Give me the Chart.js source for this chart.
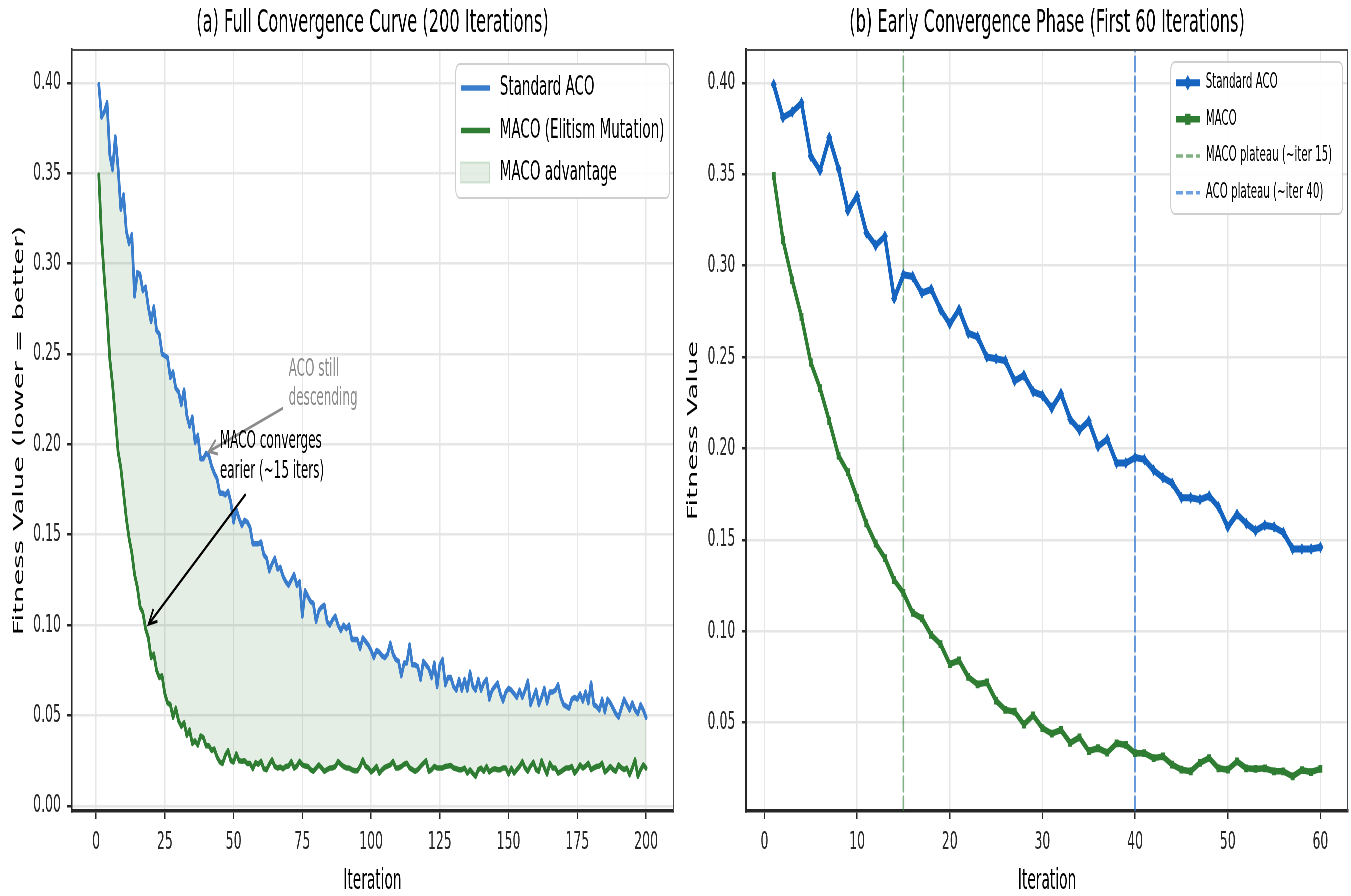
<!DOCTYPE html>
<html>
<head>
<meta charset="utf-8">
<script src="https://cdn.jsdelivr.net/npm/chart.js@4.4.0/dist/chart.umd.min.js"></script>
<style>
  html, body { margin: 0; padding: 0; background: #fff; overflow: hidden; }
  /* the figure is laid out twice as wide and squeezed to the window width */
  #stage { position: absolute; left: 0; top: 0; width: 2702px; height: 896px; transform: scaleX(0.5); transform-origin: 0 0; }
  #full { position: absolute; left: 0; top: 0; }
  #early { position: absolute; left: 1370px; top: 0; }
</style>
</head>
<body>
<div id="stage">
  <canvas id="full" width="1370" height="896"></canvas>
  <canvas id="early" width="1332" height="896"></canvas>
</div>
<script>
// ---- data ----
const acoFitness = [
  0.399, 0.381, 0.384, 0.389, 0.360, 0.352, 0.370, 0.353, 0.330, 0.338,
  0.318, 0.311, 0.316, 0.282, 0.295, 0.294, 0.285, 0.287, 0.276, 0.268,
  0.276, 0.263, 0.261, 0.250, 0.249, 0.248, 0.237, 0.240, 0.231, 0.229,
  0.222, 0.230, 0.216, 0.210, 0.215, 0.201, 0.205, 0.192, 0.192, 0.195,
  0.194, 0.188, 0.184, 0.181, 0.173, 0.173, 0.172, 0.174, 0.168, 0.157,
  0.164, 0.159, 0.155, 0.158, 0.157, 0.154, 0.145, 0.145, 0.145, 0.146,
  0.139, 0.137, 0.130, 0.134, 0.137, 0.131, 0.132, 0.127, 0.124, 0.122,
  0.125, 0.128, 0.122, 0.124, 0.105, 0.119, 0.116, 0.113, 0.112, 0.102,
  0.108, 0.110, 0.111, 0.102, 0.100, 0.103, 0.105, 0.100, 0.097, 0.100,
  0.098, 0.100, 0.092, 0.092, 0.092, 0.087, 0.093, 0.091, 0.089, 0.086,
  0.082, 0.086, 0.085, 0.083, 0.082, 0.084, 0.090, 0.084, 0.081, 0.080,
  0.072, 0.079, 0.079, 0.089, 0.078, 0.078, 0.077, 0.070, 0.080, 0.078,
  0.076, 0.071, 0.079, 0.066, 0.078, 0.081, 0.067, 0.071, 0.071, 0.066,
  0.064, 0.070, 0.064, 0.070, 0.064, 0.074, 0.066, 0.064, 0.070, 0.064,
  0.068, 0.070, 0.059, 0.064, 0.066, 0.068, 0.062, 0.058, 0.063, 0.065,
  0.064, 0.062, 0.060, 0.064, 0.060, 0.064, 0.069, 0.056, 0.060, 0.064,
  0.056, 0.060, 0.065, 0.057, 0.063, 0.063, 0.064, 0.067, 0.060, 0.056,
  0.055, 0.054, 0.059, 0.060, 0.059, 0.062, 0.058, 0.063, 0.057, 0.068,
  0.056, 0.055, 0.053, 0.059, 0.052, 0.059, 0.057, 0.054, 0.051, 0.049,
  0.054, 0.059, 0.056, 0.053, 0.057, 0.053, 0.051, 0.056, 0.053, 0.049
];

const macoFitness = [
  0.349, 0.314, 0.292, 0.272, 0.247, 0.233, 0.215, 0.196, 0.187, 0.173,
  0.159, 0.148, 0.140, 0.128, 0.121, 0.110, 0.107, 0.098, 0.093, 0.082,
  0.084, 0.075, 0.071, 0.072, 0.062, 0.057, 0.056, 0.049, 0.054, 0.047,
  0.044, 0.046, 0.039, 0.042, 0.0345, 0.036, 0.0336, 0.0387, 0.0378, 0.0333,
  0.0333, 0.0306, 0.0315, 0.027, 0.0243, 0.0234, 0.028, 0.0306, 0.025, 0.0243,
  0.0288, 0.025, 0.0247, 0.025, 0.0234, 0.0234, 0.0206, 0.024, 0.023, 0.0247,
  0.0205, 0.0200, 0.0231, 0.0255, 0.0218, 0.0209, 0.0215, 0.0205, 0.0218, 0.0220,
  0.0246, 0.0209, 0.0220, 0.0246, 0.0227, 0.0220, 0.0218, 0.0200, 0.0191, 0.0209,
  0.0227, 0.0210, 0.0191, 0.0200, 0.0209, 0.0210, 0.0218, 0.0246, 0.0230, 0.0218,
  0.0210, 0.0209, 0.0200, 0.0194, 0.0194, 0.0218, 0.0255, 0.0220, 0.0209, 0.0187,
  0.0200, 0.0218, 0.0181, 0.0200, 0.0213, 0.0220, 0.0227, 0.0246, 0.0209, 0.0210,
  0.0218, 0.0230, 0.0236, 0.0210, 0.0200, 0.0191, 0.0200, 0.0218, 0.0235, 0.0250,
  0.0191, 0.0200, 0.0218, 0.0210, 0.0209, 0.0210, 0.0218, 0.0220, 0.0223, 0.0209,
  0.0205, 0.0200, 0.0200, 0.0209, 0.0181, 0.0200, 0.0180, 0.0163, 0.0200, 0.0209,
  0.0191, 0.0218, 0.0187, 0.0200, 0.0205, 0.0200, 0.0200, 0.0210, 0.0209, 0.0176,
  0.0209, 0.0181, 0.0200, 0.0218, 0.0246, 0.0210, 0.0191, 0.0220, 0.0242, 0.0200,
  0.0191, 0.0250, 0.0210, 0.0176, 0.0236, 0.0210, 0.0209, 0.0181, 0.0190, 0.0200,
  0.0210, 0.0209, 0.0218, 0.0181, 0.0200, 0.0227, 0.0209, 0.0220, 0.0236, 0.0200,
  0.0210, 0.0218, 0.0220, 0.0236, 0.0187, 0.0200, 0.0218, 0.0200, 0.0191, 0.0227,
  0.0210, 0.0200, 0.0209, 0.0172, 0.0210, 0.0255, 0.0163, 0.0200, 0.0227, 0.0209
];

const iterations = acoFitness.map((_, i) => i + 1);
const earlyCount = 60;
const macoPlateauIter = 15;
const acoPlateauIter = 40;

const fullXTicks = [0, 25, 50, 75, 100, 125, 150, 175, 200];
const earlyXTicks = [0, 10, 20, 30, 40, 50, 60];
const fitnessTicks = [0, 0.05, 0.10, 0.15, 0.20, 0.25, 0.30, 0.35, 0.40];

// ---- look ----
const FONT = "'DejaVu Sans', 'Liberation Sans', sans-serif";
const ACO_LIGHT = '#3a7dcc';
const ACO_DARK = '#1565c0';
const MACO_GREEN = '#2e7d32';
const ADV_FILL = 'rgba(46,125,50,0.13)';
const GRID = '#e6e6e6';
const INK = '#262626';

Chart.defaults.font.family = FONT;
Chart.defaults.color = INK;

const pts = (xs, ys) => ys.map((y, i) => ({ x: xs[i], y: y }));

// matplotlib-like 5% margins
function padRange(lo, hi) {
  const m = (hi - lo) * 0.05;
  return [lo - m, hi + m];
}

function arrow(ctx, x0, y0, x1, y1, color, width) {
  ctx.strokeStyle = color;
  ctx.lineWidth = width;
  ctx.beginPath();
  ctx.moveTo(x0, y0);
  ctx.lineTo(x1, y1);
  ctx.stroke();
  const ang = Math.atan2(y1 - y0, x1 - x0);
  const L = 18, W = 0.42;
  ctx.beginPath();
  ctx.moveTo(x1 - L * Math.cos(ang - W), y1 - L * Math.sin(ang - W));
  ctx.lineTo(x1, y1);
  ctx.lineTo(x1 - L * Math.cos(ang + W), y1 - L * Math.sin(ang + W));
  ctx.stroke();
}

function marker(ctx, style, x, y, r, color) {
  ctx.fillStyle = color;
  ctx.beginPath();
  if (style === 'rect') {
    ctx.rect(x - r, y - r, 2 * r, 2 * r);
  } else {
    ctx.moveTo(x, y - r * 1.3);
    ctx.lineTo(x + r * 1.3, y);
    ctx.lineTo(x, y + r * 1.3);
    ctx.lineTo(x - r * 1.3, y);
    ctx.closePath();
  }
  ctx.fill();
}

// title, top/right frame, notes and boxed legend
const panelDecor = {
  id: 'panelDecor',
  afterDraw(chart, args, o) {
    const { ctx, chartArea: a, scales } = chart;
    const px = v => scales.x.getPixelForValue(v);
    const py = v => scales.y.getPixelForValue(v);
    ctx.save();

    ctx.strokeStyle = '#4a4a4a';
    ctx.lineWidth = 2;
    ctx.beginPath();
    ctx.moveTo(a.left, a.top);
    ctx.lineTo(a.right, a.top);
    ctx.lineTo(a.right, a.bottom);
    ctx.stroke();

    ctx.fillStyle = '#000';
    ctx.font = `32.5px ${FONT}`;
    ctx.textAlign = 'center';
    ctx.textBaseline = 'middle';
    ctx.fillText(o.title, (a.left + a.right) / 2, 24);

    for (const n of o.notes || []) {
      arrow(ctx, px(n.from[0]), py(n.from[1]), px(n.tip[0]), py(n.tip[1]), n.color, 3);
      ctx.fillStyle = n.color;
      ctx.font = `24px ${FONT}`;
      ctx.textAlign = 'left';
      const y0 = py(n.at[1]) - (n.lines.length - 1) * n.gap / 2;
      n.lines.forEach((t, i) => ctx.fillText(t, px(n.at[0]), y0 + i * n.gap));
    }

    const L = o.legend;
    ctx.fillStyle = 'rgba(255,255,255,0.9)';
    ctx.strokeStyle = '#cfcfcf';
    ctx.lineWidth = 2;
    ctx.beginPath();
    ctx.roundRect(L.box[0], L.box[1], L.box[2] - L.box[0], L.box[3] - L.box[1], 8);
    ctx.fill();
    ctx.stroke();
    ctx.font = `${L.size}px ${FONT}`;
    ctx.textAlign = 'left';
    ctx.textBaseline = 'middle';
    L.rows.forEach((row, i) => {
      const y = L.y[i];
      if (row.patch) {
        ctx.fillStyle = row.patch;
        ctx.fillRect(L.sample[0], y - 10, L.sample[1] - L.sample[0], 20);
        ctx.strokeStyle = 'rgba(46,125,50,0.18)';
        ctx.lineWidth = 2;
        ctx.strokeRect(L.sample[0], y - 10, L.sample[1] - L.sample[0], 20);
      } else {
        const ds = chart.data.datasets[row.ds];
        ctx.strokeStyle = ds.borderColor;
        ctx.lineWidth = ds.borderWidth;
        ctx.setLineDash(ds.borderDash || []);
        ctx.beginPath();
        ctx.moveTo(L.sample[0], y);
        ctx.lineTo(L.sample[1], y);
        ctx.stroke();
        ctx.setLineDash([]);
        if (ds.pointRadius) marker(ctx, ds.pointStyle, (L.sample[0] + L.sample[1]) / 2, y, ds.pointRadius, ds.borderColor);
      }
      ctx.fillStyle = '#000';
      ctx.fillText(row.label || chart.data.datasets[row.ds].label, L.text, y);
    });
    ctx.restore();
  }
};

function axes(xTicks, xRange, yRange, yTitle, yWidth, yTitlePad) {
  const tickList = list => scale => {
    scale.ticks = list.filter(v => v >= scale.min && v <= scale.max).map(v => ({ value: v }));
  };
  return {
    x: {
      type: 'linear', min: xRange[0], max: xRange[1],
      afterBuildTicks: tickList(xTicks),
      afterFit: s => { s.height = 85; },
      ticks: { font: { size: 25 }, color: INK, padding: 8, autoSkip: false, maxRotation: 0, callback: v => String(v) },
      grid: { color: GRID, lineWidth: 2.5, tickColor: INK, tickLength: 8, tickWidth: 2.5 },
      border: { color: INK, width: 3.5 },
      title: { display: true, text: 'Iteration', font: { size: 27.5, lineHeight: 1 }, padding: { top: 0, bottom: 0 }, color: '#000' }
    },
    y: {
      type: 'linear', min: yRange[0], max: yRange[1],
      afterBuildTicks: tickList(fitnessTicks),
      afterFit: s => { s.width = yWidth; },
      ticks: { font: { size: 25 }, color: INK, padding: 13, callback: v => v.toFixed(2) },
      grid: { color: GRID, lineWidth: 2.5, tickColor: INK, tickLength: 9, tickWidth: 2.5 },
      border: { color: INK, width: 3.5 },
      title: { display: true, text: yTitle, font: { size: 27.5, lineHeight: 1 }, padding: { top: yTitlePad, bottom: 0 }, color: '#000' }
    }
  };
}

const common = {
  responsive: false,
  animation: false,
  events: [],
  elements: { line: { tension: 0, borderCapStyle: 'round', borderJoinStyle: 'round' } }
};

// ---- (a) all 200 iterations ----
const fullY = padRange(Math.min(...macoFitness), Math.max(...acoFitness));
new Chart(document.getElementById('full'), {
  type: 'line',
  data: {
    datasets: [
      { label: 'Standard ACO', data: pts(iterations, acoFitness), borderColor: ACO_LIGHT, borderWidth: 5.5, pointRadius: 0, fill: false },
      { label: 'MACO (Elitism Mutation)', data: pts(iterations, macoFitness), borderColor: MACO_GREEN, borderWidth: 5.5, pointRadius: 0, fill: '-1', backgroundColor: ADV_FILL }
    ]
  },
  options: Object.assign({}, common, {
    layout: { padding: { left: 0, top: 50, right: 22.6, bottom: 0 } },
    scales: axes(fullXTicks, padRange(1, 200), fullY, 'Fitness Value (lower = better)', 143.4, 25),
    plugins: {
      legend: { display: false },
      tooltip: { enabled: false },
      panelDecor: {
        title: '(a) Full Convergence Curve (200 Iterations)',
        notes: [
          { lines: ['ACO still', 'descending'], at: [70, 0.233], gap: 29, from: [68, 0.220], tip: [41, 0.196], color: '#8c8c8c' },
          { lines: ['MACO converges', 'earier (~15 iters)'], at: [45, 0.193], gap: 30, from: [54.4, 0.1724], tip: [19.1, 0.1005], color: '#000' }
        ],
        legend: {
          box: [912, 64, 1340, 198], sample: [922, 980], text: 1000, size: 27, y: [88, 130.5, 172.5],
          rows: [{ ds: 0 }, { ds: 1 }, { label: 'MACO advantage', patch: ADV_FILL }]
        }
      }
    }
  }),
  plugins: [panelDecor]
});

// ---- (b) first 60 iterations ----
const earlyIter = iterations.slice(0, earlyCount);
const earlyAco = acoFitness.slice(0, earlyCount);
const earlyMaco = macoFitness.slice(0, earlyCount);
const earlyY = padRange(Math.min(...earlyMaco), Math.max(...earlyAco));

new Chart(document.getElementById('early'), {
  type: 'line',
  data: {
    datasets: [
      { label: 'Standard ACO', data: pts(earlyIter, earlyAco), borderColor: ACO_DARK, backgroundColor: ACO_DARK, borderWidth: 7, pointStyle: 'rectRot', pointRadius: 6, pointBorderWidth: 0 },
      { label: 'MACO', data: pts(earlyIter, earlyMaco), borderColor: MACO_GREEN, backgroundColor: MACO_GREEN, borderWidth: 6.5, pointStyle: 'rect', pointRadius: 5.5, pointBorderWidth: 0 },
      { label: 'MACO plateau (~iter 15)', data: [{ x: macoPlateauIter, y: earlyY[0] }, { x: macoPlateauIter, y: earlyY[1] }], borderColor: 'rgba(46,125,50,0.6)', borderWidth: 3.5, borderDash: [14, 6], pointRadius: 0 },
      { label: 'ACO plateau (~iter 40)', data: [{ x: acoPlateauIter, y: earlyY[0] }, { x: acoPlateauIter, y: earlyY[1] }], borderColor: 'rgba(30,110,210,0.65)', borderWidth: 3.5, borderDash: [14, 6], pointRadius: 0 }
    ]
  },
  options: Object.assign({}, common, {
    layout: { padding: { left: 0, top: 50, right: 4.4, bottom: 0 } },
    scales: axes(earlyXTicks, padRange(1, earlyCount), earlyY, 'Fitness Value', 123.2, 4.5),
    plugins: {
      legend: { display: false },
      tooltip: { enabled: false },
      panelDecor: {
        title: '(b) Early Convergence Phase (First 60 Iterations)',
        legend: {
          box: [972, 62, 1316, 214], sample: [982, 1030], text: 1042, size: 20.5, y: [82.7, 119.3, 156, 192.7],
          rows: [{ ds: 0 }, { ds: 1 }, { ds: 2 }, { ds: 3 }]
        }
      }
    }
  }),
  plugins: [panelDecor]
});
</script>
</body>
</html>
